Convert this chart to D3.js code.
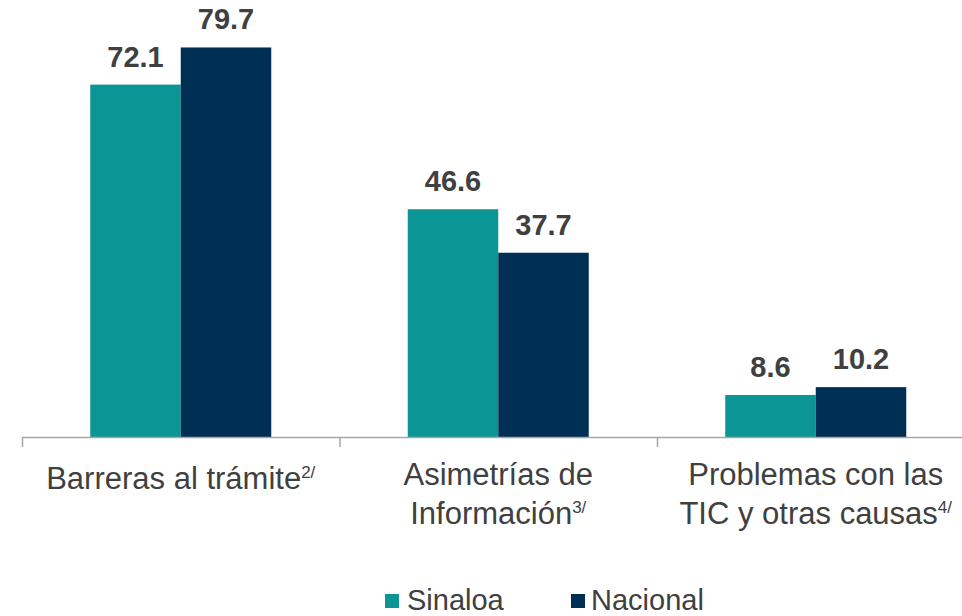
<!DOCTYPE html>
<html>
<head>
<meta charset="utf-8">
<script src="https://cdn.jsdelivr.net/npm/d3@7"></script>
<style>
  body { margin: 0; background: #fff; }
  svg { display: block; font-family: "Liberation Sans", Arial, sans-serif; }
</style>
</head>
<body>
<div id="chart"></div>
<script>
// datos
const categories = ['Barreras al trámite', 'Asimetrías de\nInformación', 'Problemas con las\nTIC y otras causas'];
const notes = ['2/', '3/', '4/'];
const seriesNames = ['Sinaloa', 'Nacional'];
const sinaloa = [72.1, 46.6, 8.6];
const nacional = [79.7, 37.7, 10.2];
const colors = ['#0b9594', '#002f56'];

const width = 962, height = 616;
const baseY = 437;

const svg = d3.select('#chart').append('svg')
  .attr('width', width).attr('height', height);

const x = d3.scaleBand().domain(categories).range([22, 974.5]);
const inner = d3.scaleBand().domain(seriesNames).range([0, 181]);
const y = d3.scaleLinear().domain([0, 80]).range([baseY, 46]);

const rows = categories.map((c, i) => ({ cat: c, values: [sinaloa[i], nacional[i]] }));

// barras
const groups = svg.selectAll('g.grp').data(rows).enter().append('g')
  .attr('class', 'grp')
  .attr('transform', d => 'translate(' + (x(d.cat) + (x.bandwidth() - 181) / 2) + ',0)');

groups.selectAll('rect').data(d => d.values.map((v, j) => ({ v: v, s: seriesNames[j], j: j })))
  .enter().append('rect')
  .attr('x', d => inner(d.s))
  .attr('width', inner.bandwidth())
  .attr('y', d => y(d.v))
  .attr('height', d => baseY - y(d.v))
  .attr('fill', d => colors[d.j]);

groups.selectAll('text.val').data(d => d.values.map((v, j) => ({ v: v, s: seriesNames[j] })))
  .enter().append('text')
  .attr('class', 'val')
  .attr('x', d => inner(d.s) + inner.bandwidth() / 2)
  .attr('y', d => y(d.v) - 18)
  .attr('text-anchor', 'middle')
  .attr('font-size', 29)
  .attr('font-weight', 'bold')
  .attr('fill', '#404040')
  .text(d => d.v.toFixed(1));

// eje
const axis = svg.append('g');
axis.append('line')
  .attr('x1', 22).attr('x2', width)
  .attr('y1', baseY + 0.5).attr('y2', baseY + 0.5)
  .attr('stroke', '#a6a6a6').attr('stroke-width', 1.5);
const tickPos = categories.map(c => x(c)).concat([x.range()[1]]);
axis.selectAll('line.tick').data(tickPos).enter().append('line')
  .attr('class', 'tick')
  .attr('x1', d => d + 0.5).attr('x2', d => d + 0.5)
  .attr('y1', baseY).attr('y2', baseY + 10)
  .attr('stroke', '#a6a6a6').attr('stroke-width', 1.5);

// etiquetas de categoría
categories.forEach((d, k) => {
  const lines = d.split('\n');
  const cx = x(d) + x.bandwidth() / 2;
  const y0 = lines.length > 1 ? 485 : 489;
  lines.forEach((ln, i) => {
    const t = svg.append('text')
      .attr('x', cx)
      .attr('y', y0 + i * 39)
      .attr('text-anchor', 'middle')
      .attr('font-size', 31)
      .attr('fill', '#404040');
    t.append('tspan').text(ln);
    if (i === lines.length - 1) {
      t.append('tspan')
        .attr('font-size', 17)
        .attr('dy', -11)
        .text(notes[k]);
    }
  });
});

// leyenda
const legendX = [385, 571];
const legend = svg.selectAll('g.leg').data(seriesNames).enter().append('g')
  .attr('class', 'leg')
  .attr('transform', (d, i) => 'translate(' + legendX[i] + ',594)');
legend.append('rect')
  .attr('width', 14).attr('height', 14)
  .attr('fill', (d, i) => colors[i]);
legend.append('text')
  .attr('x', (d, i) => i === 0 ? 22 : 20)
  .attr('y', 16)
  .attr('font-size', 29)
  .attr('fill', '#404040')
  .text(d => d);
</script>
</body>
</html>
